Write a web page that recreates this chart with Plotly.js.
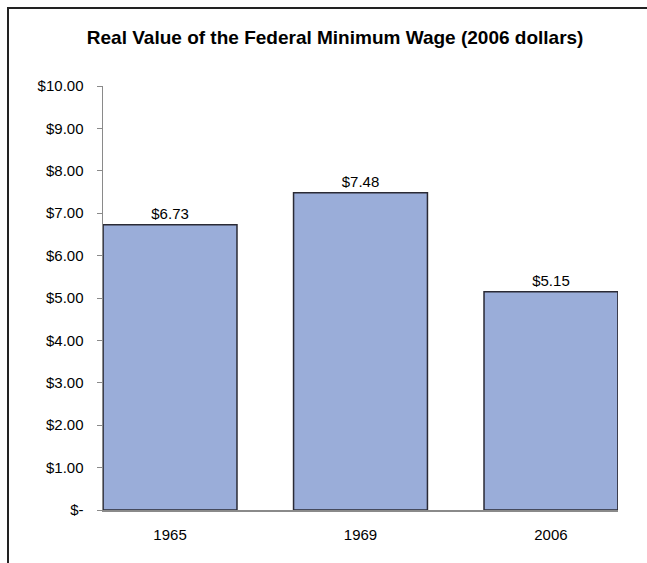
<!DOCTYPE html>
<html>
<head>
<meta charset="utf-8">
<script src="https://cdn.plot.ly/plotly-3.0.1.min.js"></script>
<style>
  html, body { margin: 0; padding: 0; background: #fff; }
  #wrap { position: relative; width: 647px; height: 563px; overflow: hidden; }
  #chart { position: absolute; left: 0; top: 0; width: 647px; height: 563px; }
  #frame { position: absolute; left: 7px; top: 7px; width: 700px; height: 600px;
           border-left: 2px solid #222; border-top: 2px solid #222; pointer-events: none; }
</style>
</head>
<body>
<div id="wrap">
  <div id="chart"></div>
  <div id="frame"></div>
</div>
<script>
const years = ["1965", "1969", "2006"];
const wages = [6.73, 7.48, 5.15];
const yTicks = [0, 1, 2, 3, 4, 5, 6, 7, 8, 9, 10];

function money(v) { return v === 0 ? "$-" : "$" + v.toFixed(2); }

const font = "Liberation Sans, Arial, sans-serif";

const trace = {
  type: "bar",
  x: years,
  y: wages,
  text: wages.map(money),
  textposition: "outside",
  textfont: { family: font, size: 15, color: "#000" },
  cliponaxis: false,
  marker: { color: "#9AADD9", line: { color: "#2a2a35", width: 1.5 } },
  hoverinfo: "skip"
};

const layout = {
  width: 647,
  height: 563,
  margin: { l: 103, r: 29, t: 86, b: 53 },
  paper_bgcolor: "#ffffff",
  plot_bgcolor: "#ffffff",
  showlegend: false,
  bargap: 0.297,
  font: { family: font, color: "#000" },
  title: {
    text: "<b>Real Value of the Federal Minimum Wage (2006 dollars)</b>",
    font: { family: font, size: 19, color: "#000" },
    xref: "container", x: 0.518, xanchor: "center",
    yref: "container", y: 1 - 37 / 563, yanchor: "middle"
  },
  xaxis: {
    type: "category",
    range: [-0.352, 2.352],
    showline: true,
    linecolor: "#8a8a8a",
    linewidth: 1.5,
    showgrid: false,
    zeroline: false,
    ticks: "",
    tickfont: { family: font, size: 15, color: "#000" },
    ticklabelstandoff: 10
  },
  yaxis: {
    range: [0, 10],
    tickvals: yTicks,
    ticktext: yTicks.map(money),
    showline: true,
    linecolor: "#8a8a8a",
    linewidth: 1.5,
    ticks: "outside",
    ticklen: 5,
    tickcolor: "#8a8a8a",
    showgrid: false,
    zeroline: false,
    tickfont: { family: font, size: 15, color: "#000" },
    ticklabelstandoff: 10
  }
};

Plotly.newPlot("chart", [trace], layout, { displayModeBar: false, staticPlot: true });
</script>
</body>
</html>
